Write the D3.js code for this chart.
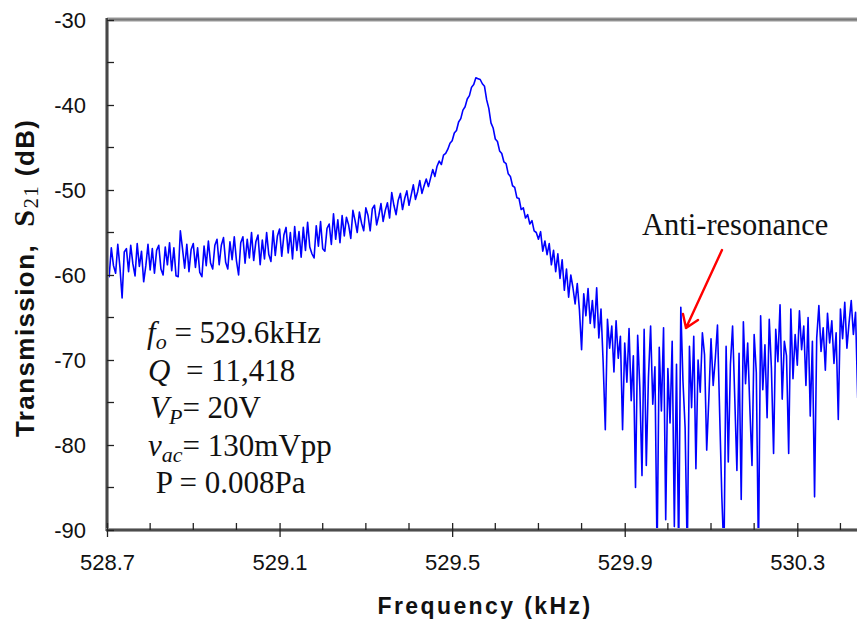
<!DOCTYPE html>
<html>
<head>
<meta charset="utf-8">
<script src="https://cdn.jsdelivr.net/npm/d3@7"></script>
<style>
body { margin: 0; background: #fff; }
text { white-space: pre; }
</style>
</head>
<body>
<div id="chart"></div>
<script>
// frequency sweep (kHz)
var sweepStart = 528.7,
    sweepStep = 0.005;

// S21 transmission (dB), one reading per sweep step
var s21 = [
  -58.5, -60.2, -56.8, -58.9, -59.8, -56.4, -59.1, -62.7, -57.3, -56.9,
  -59.6, -56.5, -58.7, -60.1, -56.3, -59.0, -57.2, -60.8, -58.9, -56.4,
  -59.4, -56.9, -59.8, -57.1, -56.5, -59.3, -60.0, -56.7, -58.8, -56.2,
  -59.5, -56.8, -60.1, -60.2, -54.8, -56.9, -59.2, -56.4, -59.6, -57.0,
  -56.3, -59.1, -56.8, -59.7, -60.2, -56.6, -58.9, -56.0, -58.6, -59.3,
  -56.5, -55.8, -58.8, -56.5, -55.6, -58.5, -59.3, -56.1, -58.2, -55.5,
  -58.3, -60.0, -56.2, -55.5, -58.6, -55.8, -58.0, -55.0, -58.3, -56.1,
  -55.3, -58.8, -55.9, -58.1, -55.0, -57.6, -58.4, -54.8, -57.7, -55.4,
  -54.6, -57.8, -55.3, -54.4, -57.4, -55.0, -58.1, -54.3, -57.1, -54.9,
  -57.9, -54.4, -57.1, -53.8, -56.7, -57.5, -58.0, -54.2, -56.6, -53.7,
  -56.9, -57.2, -54.5, -54.0, -56.4, -52.8, -55.8, -53.5, -56.2, -53.0,
  -55.4, -53.2, -54.1, -55.7, -52.4, -53.6, -55.0, -52.6, -53.9, -54.8,
  -52.1, -53.0, -54.8, -52.2, -51.8, -54.1, -53.0, -51.6, -53.7, -52.4,
  -51.5, -53.3, -50.3, -51.8, -52.9, -51.2, -50.4, -52.3, -51.0, -50.1,
  -51.8, -50.6, -49.4, -51.1, -50.2, -48.9, -50.4, -49.5, -48.7, -49.6,
  -48.6, -47.6, -48.4, -47.2, -46.6, -47.0, -45.9, -45.7, -45.2, -44.5,
  -44.2, -43.3, -43.0, -42.0, -41.6, -40.6, -40.2, -39.3, -38.9, -37.9,
  -37.6, -36.8, -36.9, -37.0, -37.5, -37.8, -39.4, -40.4, -42.1, -42.7,
  -44.0, -44.3, -45.4, -45.7, -46.7, -46.9, -48.1, -48.4, -49.5, -49.7,
  -50.9, -51.0, -52.3, -52.1, -53.3, -52.9, -54.0, -53.6, -54.8, -55.0,
  -55.8, -54.9, -57.2, -56.0, -57.6, -56.3, -58.8, -57.1, -59.6, -57.5,
  -60.4, -58.2, -61.8, -59.3, -62.6, -60.0, -61.5, -63.4, -61.0, -64.1,
  -68.8, -62.2, -64.8, -61.6, -65.7, -63.0, -66.2, -61.5, -67.4, -64.0,
  -70.3, -78.2, -65.2, -68.6, -66.0, -71.4, -65.4, -69.8, -67.2, -78.2,
  -68.0, -72.6, -66.3, -74.8, -69.5, -85.0, -67.1, -73.2, -83.6, -66.4,
  -82.4, -72.0, -66.0, -75.2, -70.8, -93.0, -68.5, -76.0, -66.2, -88.8,
  -71.0, -77.4, -67.8, -89.6, -70.5, -93.0, -63.8, -72.5, -78.0, -93.0,
  -68.4, -75.6, -67.2, -82.8, -70.0, -73.8, -66.8, -69.4, -80.6, -74.5,
  -67.5, -73.0, -69.8, -65.9, -76.2, -86.0, -93.0, -68.4, -82.0, -70.5,
  -66.0, -74.4, -83.0, -69.2, -86.4, -65.5, -72.8, -68.0, -75.6, -82.4,
  -67.0, -71.5, -93.0, -64.8, -73.5, -68.2, -76.8, -65.2, -71.0, -81.0,
  -66.4, -70.2, -63.5, -74.6, -67.8, -69.5, -81.0, -64.0, -72.2, -67.0,
  -70.6, -64.2, -68.8, -66.0, -73.0, -65.0, -76.6, -67.8, -86.1, -67.4,
  -63.6, -69.0, -66.2, -71.2, -64.5, -68.0, -65.4, -70.4, -66.8, -77.0,
  -64.0, -67.5, -63.2, -68.6, -65.6, -63.0, -67.0, -64.4, -74.5
];

// axis ticks
var yMajor = [-30, -40, -50, -60, -70, -80, -90];
var yMinor = [-35, -45, -55, -65, -75, -85];
var xMajor = [528.7, 529.1, 529.5, 529.9, 530.3];
var xMinor = [528.8, 528.9, 529.0, 529.2, 529.3, 529.4, 529.6, 529.7, 529.8, 530.0, 530.1, 530.2, 530.4];

// device parameters written in the plot
var paramLines = [
  [{t: "f", it: true}, {t: "o", it: true, sub: true}, {t: " = 529.6kHz"}],
  [{t: "Q", it: true}, {t: "  = 11,418"}],
  [{t: "V", it: true}, {t: "P", it: true, sub: true}, {t: "= 20V"}],
  [{t: "v", it: true}, {t: "ac", it: true, sub: true}, {t: "= 130mVpp"}],
  [{t: " P = 0.008Pa"}]
];
var arrowLabel = "Anti-resonance";

var W = 857, H = 624;
var plotL = 107, plotT = 20, plotR = 857.7, plotB = 530;

var svg = d3.select("#chart")
  .append("svg")
    .attr("width", W)
    .attr("height", H);

svg.append("rect").attr("width", W).attr("height", H).attr("fill", "#fff");

var x = d3.scaleLinear().domain([528.7, 530.44]).range([plotL, plotR]);
var y = d3.scaleLinear().domain([-90, -30]).range([plotB, plotT]);

var data = s21.map(function(v, i) {
  return {f: sweepStart + i * sweepStep, v: v};
});

svg.append("clipPath").attr("id", "plotclip")
  .append("rect")
    .attr("x", plotL).attr("y", plotT)
    .attr("width", W - plotL).attr("height", plotB - plotT);

// the trace
var line = d3.line()
  .x(function(d) { return x(d.f); })
  .y(function(d) { return y(d.v); });

svg.append("path")
  .datum(data)
  .attr("clip-path", "url(#plotclip)")
  .attr("fill", "none")
  .attr("stroke", "#0000ff")
  .attr("stroke-width", 1.6)
  .attr("stroke-linejoin", "round")
  .attr("d", line);

// frame: top border + left / bottom axis lines (grey with dark core)
svg.append("line")
  .attr("x1", plotL).attr("x2", W).attr("y1", plotT - 0.5).attr("y2", plotT - 0.5)
  .attr("stroke", "#9a9a9a").attr("stroke-width", 4);
svg.append("line")
  .attr("x1", plotL).attr("x2", W).attr("y1", plotT - 0.5).attr("y2", plotT - 0.5)
  .attr("stroke", "#7a7a7a").attr("stroke-width", 1.5);

[[plotL, plotT - 2, plotL, plotB + 1], [plotL - 1, plotB, W, plotB]].forEach(function(c) {
  svg.append("line")
    .attr("x1", c[0]).attr("y1", c[1]).attr("x2", c[2]).attr("y2", c[3])
    .attr("stroke", "#9a9a9a").attr("stroke-width", 4);
  svg.append("line")
    .attr("x1", c[0]).attr("y1", c[1]).attr("x2", c[2]).attr("y2", c[3])
    .attr("stroke", "#333").attr("stroke-width", 1.6);
});

// y axis ticks (plain hyphen minus like the original)
var yAxis = svg.append("g")
  .attr("transform", "translate(" + plotL + ",0)")
  .call(d3.axisLeft(y).tickValues(yMajor).tickSize(7).tickPadding(14)
    .tickFormat(function(d) { return String(d); }));
yAxis.select(".domain").remove();
yAxis.selectAll(".tick line").attr("x2", 7).attr("stroke", "#222").attr("stroke-width", 1.3);
yAxis.selectAll(".tick text")
  .attr("font-family", "Liberation Sans, Arial, sans-serif")
  .attr("font-size", 22)
  .attr("fill", "#111");

svg.append("g").selectAll("line")
  .data(yMinor)
  .enter().append("line")
    .attr("x1", plotL).attr("x2", plotL + 7)
    .attr("y1", function(d) { return y(d); })
    .attr("y2", function(d) { return y(d); })
    .attr("stroke", "#222").attr("stroke-width", 1.3);

// x axis ticks
var xAxis = svg.append("g")
  .attr("transform", "translate(0," + plotB + ")")
  .call(d3.axisBottom(x).tickValues(xMajor).tickSize(7).tickPadding(17).tickFormat(d3.format(".1f")));
xAxis.select(".domain").remove();
xAxis.selectAll(".tick line").attr("y1", -7).attr("stroke", "#222").attr("stroke-width", 1.3);
xAxis.selectAll(".tick text")
  .attr("font-family", "Liberation Sans, Arial, sans-serif")
  .attr("font-size", 22)
  .attr("fill", "#111");

svg.append("g").selectAll("line")
  .data(xMinor)
  .enter().append("line")
    .attr("x1", function(d) { return x(d); })
    .attr("x2", function(d) { return x(d); })
    .attr("y1", plotB - 7).attr("y2", plotB)
    .attr("stroke", "#222").attr("stroke-width", 1.3);

// axis titles
svg.append("text")
  .attr("x", 485).attr("y", 614)
  .attr("text-anchor", "middle")
  .attr("font-family", "Liberation Sans, Arial, sans-serif")
  .attr("font-weight", "bold")
  .attr("font-size", 23)
  .attr("letter-spacing", 2.4)
  .attr("fill", "#111")
  .text("Frequency (kHz)");

var yt = svg.append("text")
  .attr("transform", "translate(34,437) rotate(-90)")
  .attr("font-family", "Liberation Sans, Arial, sans-serif")
  .attr("font-weight", "bold")
  .attr("font-size", 26)
  .attr("letter-spacing", 1.4)
  .attr("fill", "#111");
yt.append("tspan").text("Transmission,  ");
yt.append("tspan").attr("font-family", "Liberation Serif, Times New Roman, serif")
  .attr("font-size", 30).text("S");
yt.append("tspan").attr("font-family", "Liberation Serif, Times New Roman, serif")
  .attr("font-weight", "normal").attr("font-size", 21).attr("dy", 4).text("21");
yt.append("tspan").attr("dy", -4).text(" (dB)");

// parameter block
var lineX = [147, 148, 150, 148, 148];
paramLines.forEach(function(parts, k) {
  var t = svg.append("text")
    .attr("x", lineX[k]).attr("y", 343 + k * 37.5)
    .attr("font-family", "Liberation Serif, Times New Roman, serif")
    .attr("font-size", 31)
    .attr("fill", "#111");
  var shifted = false;
  parts.forEach(function(p) {
    var s = t.append("tspan").text(p.t);
    if (p.it) s.attr("font-style", "italic");
    if (p.sub) { s.attr("font-size", 22).attr("dy", 6); shifted = true; }
    else if (shifted) { s.attr("dy", -6); shifted = false; }
  });
});

// anti-resonance label and arrow
svg.append("text")
  .attr("x", 642).attr("y", 235)
  .attr("font-family", "Liberation Serif, Times New Roman, serif")
  .attr("font-size", 30.5)
  .attr("fill", "#111")
  .text(arrowLabel);

svg.append("path")
  .attr("d", "M722,250 L686,328 M683,314 L686,328 L698,320")
  .attr("fill", "none")
  .attr("stroke", "#ff0000")
  .attr("stroke-width", 2.4)
  .attr("stroke-linecap", "round")
  .attr("stroke-linejoin", "round");
</script>
</body>
</html>
